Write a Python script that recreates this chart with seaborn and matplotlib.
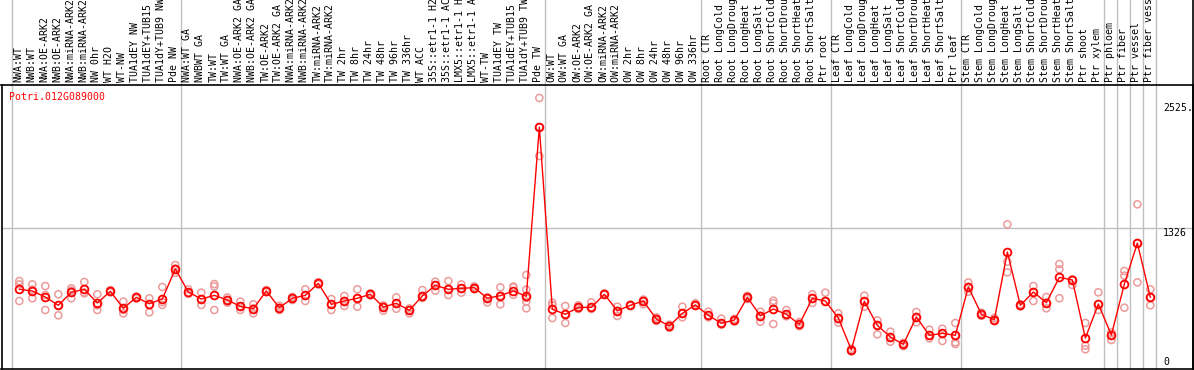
import pandas as pd
import matplotlib.pyplot as plt
import seaborn as sns

# sample labels, left to right
samples = [
    'NWA:WT', 'NWB:WT', 'NWA:OE-ARK2', 'NWB:OE-ARK2', 'NWA:miRNA-ARK2', 'NWB:miRNA-ARK2',
    'NW 0hr', 'WT H2O', 'WT-NW', 'TUA1dEY NW', 'TUA1dEY+TUB15 NW', 'TUA1dY+TUB9 NW', 'Pde NW',
    'NWA:WT GA', 'NWBWT GA', 'TW:WT', 'TW:WT GA', 'NWA:OE-ARK2 GA', 'NWB:OE-ARK2 GA',
    'TW:OE-ARK2', 'TW:OE-ARK2 GA', 'NWA:miRNA-ARK2 GA', 'NWB:miRNA-ARK2 GA', 'TW:miRNA-ARK2',
    'TW:miRNA-ARK2 GA', 'TW 2hr', 'TW 8hr', 'TW 24hr', 'TW 48hr', 'TW 96hr', 'TW 336hr',
    'WT ACC', '35S::etr1-1 H2O', '35S::etr1-1 ACC', 'LMX5::etr1-1 H2O', 'LMX5::etr1-1 ACC',
    'WT-TW', 'TUA1dEY TW', 'TUA1dEY+TUB15 TW', 'TUA1dY+TUB9 TW', 'Pde TW',
    'OW:WT', 'OW:WT GA', 'OW:OE-ARK2', 'OW:OE-ARK2 GA', 'OW:miRNA-ARK2', 'OW:miRNA-ARK2 GA',
    'OW 2hr', 'OW 8hr', 'OW 24hr', 'OW 48hr', 'OW 96hr', 'OW 336hr',
    'Root CTR', 'Root LongCold', 'Root LongDrought', 'Root LongHeat', 'Root LongSalt',
    'Root ShortCold', 'Root ShortDrought', 'Root ShortHeat', 'Root ShortSalt', 'Ptr root',
    'Leaf CTR', 'Leaf LongCold', 'Leaf LongDrought', 'Leaf LongHeat', 'Leaf LongSalt',
    'Leaf ShortCold', 'Leaf ShortDrought', 'Leaf ShortHeat', 'Leaf ShortSalt', 'Ptr leaf',
    'Stem CTR', 'Stem LongCold', 'Stem LongDrought', 'Stem LongHeat', 'Stem LongSalt',
    'Stem ShortCold', 'Stem ShortDrought', 'Stem ShortHeat', 'Stem ShortSalt', 'Ptr shoot',
    'Ptr xylem', 'Ptr phloem', 'Ptr fiber', 'Ptr vessel', 'Ptr fiber vessel',
]

# index of first sample of each group (last entry = end)
group_starts = [0, 13, 41, 53, 63, 73, 84, 85, 86, 87, 88]

means = [
    743, 727, 669, 590, 714, 743, 612, 724, 561, 666, 605, 650, 937,
    717, 650, 685, 641, 580, 557, 727, 567, 657, 685, 800, 599, 631,
    657, 695, 574, 609, 542, 679, 781, 743, 752, 759, 657, 682, 727, 676, 2294,
    552, 504, 570, 570, 695, 538, 590, 631, 459, 392, 513, 593,
    494, 418, 449, 666, 490, 554, 504, 408, 657, 631,
    468, 163, 628, 398, 287, 217, 478, 303, 322, 303,
    765, 504, 452, 1099, 590, 717, 615, 857, 832, 277, 602,
    306, 793, 1185, 666,
]

replicates = [
    [822, 790, 631], [790, 657, 740], [774, 688, 545], [695, 590, 494], [752, 730, 657],
    [813, 704, 712], [695, 590, 545], [736, 715, 724], [625, 545, 513], [672, 666, 655],
    [657, 590, 523], [765, 593, 620], [975, 940, 900],
    [743, 705, 700], [711, 650, 593], [793, 770, 545], [665, 641, 615], [625, 580, 545],
    [600, 560, 513], [736, 727, 715], [585, 567, 545], [670, 657, 640],
    [743, 680, 631], [810, 800, 790], [650, 599, 545], [679, 631, 583], [743, 657, 577],
    [705, 695, 685], [590, 574, 538], [666, 609, 557], [560, 542, 513], [736, 679, 660],
    [816, 781, 730], [822, 743, 688], [790, 752, 711], [770, 759, 745], [666, 657, 618],
    [762, 682, 599], [770, 760, 690], [880, 740, 660, 625, 561], [2572, 2294, 2017],
    [615, 590, 468], [583, 504, 421], [590, 570, 555], [618, 570, 555],
    [705, 695, 690], [577, 538, 488], [595, 590, 585], [645, 631, 600], [475, 459, 440],
    [405, 392, 375], [577, 513, 475], [610, 593, 585],
    [529, 494, 475], [462, 418, 405], [460, 449, 435], [680, 666, 650], [529, 490, 433],
    [634, 610, 411], [545, 504, 485], [430, 408, 390], [695, 657, 612], [711, 631, 625],
    [513, 468, 424], [175, 163, 150], [682, 628, 577], [446, 398, 312], [338, 287, 242],
    [230, 217, 200], [526, 478, 427], [357, 303, 274], [366, 322, 249], [421, 303, 236, 220],
    [809, 765, 720], [520, 504, 490], [470, 452, 440], [1364, 1007, 905], [600, 590, 580],
    [774, 717, 631], [669, 615, 561], [985, 934, 657], [840, 832, 784], [421, 204, 169],
    [714, 602, 545], [330, 306, 258], [918, 873, 567], [1555, 1185, 809], [743, 666, 590],
]

y_ticks = [0, 1326, 2525]
y_tick_labels = ['0', '1326', '2525.']

mean_df = pd.DataFrame({'pos': range(len(samples)), 'value': means})
rep_df = pd.DataFrame(
    [(i, v) for i, vals in enumerate(replicates) for v in vals],
    columns=['pos', 'value'],
)

sns.set_style('white')
plt.rcParams['font.family'] = ['DejaVu Sans Mono']

W, H = 1194, 370
fig = plt.figure(figsize=(W / 100, H / 100), dpi=100)
ax = fig.add_axes([1.5 / W, 1 / H, (1193 - 1.5) / W, (369 - 85) / H])

sns.scatterplot(data=rep_df, x='pos', y='value', ax=ax, marker='o', s=26,
                facecolor='none', edgecolor='#ec9a9a', linewidth=1.1, zorder=3)
sns.lineplot(data=mean_df, x='pos', y='value', ax=ax, color='red', lw=1,
             marker='o', markersize=5.6, markerfacecolor='none',
             markeredgecolor='red', markeredgewidth=1.3, errorbar=None, zorder=4)

ax.set_xlim(-1.37, 90.28)
ax.set_ylim(-19, 2696)
ax.set_xticks([])
ax.set_yticks([])
ax.set_xlabel('')
ax.set_ylabel('')

for sp in ax.spines.values():
    sp.set_color('black')
    sp.set_linewidth(1.2)

# group separators run up through the label strip
top_ext = 369 / 284
for g in group_starts:
    ax.axvline(g - 0.6, ymin=0, ymax=top_ext, color='#c0c0c0', lw=1,
               clip_on=False, zorder=1)
ax.axvline(90.28, ymin=0, ymax=top_ext, color='black', lw=1.2, clip_on=False)
ax.axhline(1326, color='#c0c0c0', lw=1, zorder=1)

trans = ax.get_xaxis_transform()
for i, name in enumerate(samples):
    ax.text(i - 0.08, 1 + 3 / 284, name, transform=trans, rotation=90,
            ha='center', va='bottom', fontsize=7.1, color='black', clip_on=False)

label_x = 87.98
for v, lab in zip(y_ticks, y_tick_labels):
    ax.text(label_x, v, lab, ha='left', va='bottom' if v == 0 else 'top',
            fontsize=7.1, color='black')

ax.text(7.8 / 1191.5, 1 - 7 / 284, 'Potri.012G089000', transform=ax.transAxes,
        ha='left', va='top', fontsize=7.1, color='red')

fig.savefig('out.png', dpi=100)
